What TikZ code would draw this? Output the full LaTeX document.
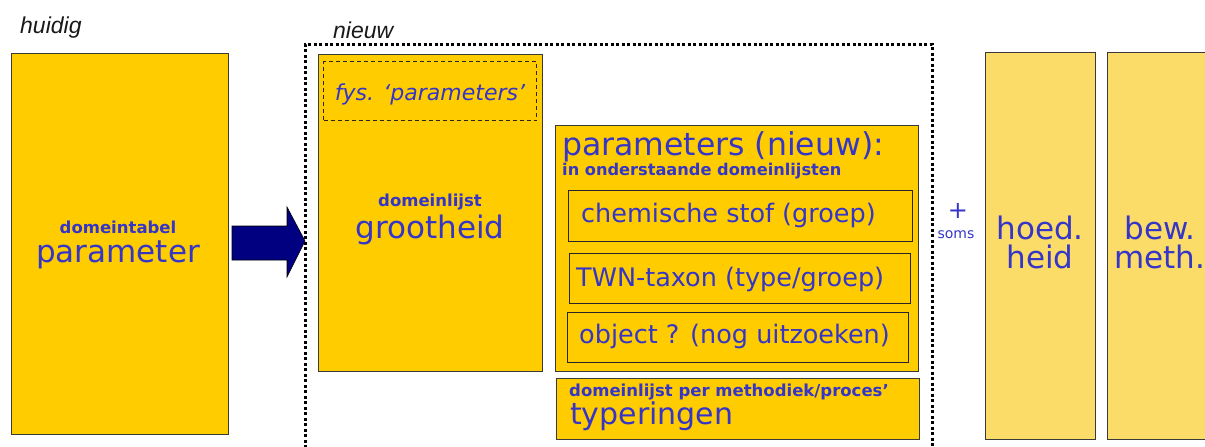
\documentclass[tikz,border=0pt]{standalone}
\usepackage{fontspec}
\setmainfont{DejaVu Sans}
\newfontfamily\labfont{Liberation Sans}
\definecolor{gold}{HTML}{FFCC00}
\definecolor{lightgold}{HTML}{FBDC68}
\definecolor{txtblue}{HTML}{3535C8}
\definecolor{navyarrow}{HTML}{000080}
\definecolor{edge}{HTML}{3A3A3A}
\newcommand\fsz[1]{\fontsize{#1}{#1}\selectfont}
\begin{document}
\begin{tikzpicture}[x=1pt,y=-1pt,
  box/.style={draw=edge, line width=1.4pt, fill=gold, inner sep=0pt, anchor=north west},
  lbox/.style={draw=edge, line width=1.4pt, fill=lightgold, inner sep=0pt, anchor=north west},
  sub/.style={draw=black!85, line width=1.4pt, inner sep=0pt, anchor=north west},
  txt/.style={inner sep=0pt, text=txtblue},
  big/.style={txt, font=\fsz{31}},
  mid/.style={txt, font=\fsz{25.5}},
  small/.style={txt, font=\bfseries\fsz{16.5}},
  head/.style={inner sep=0pt, text=black!90, font=\labfont\itshape\fsz{23}, anchor=base west},
  frame/.style={line width=3pt, dash pattern=on 3pt off 2.5pt, black}
]
\path[use as bounding box] (0,0) rectangle (1205,447);
\clip (0,0) rectangle (1205,447);
\fill[white] (0,0) rectangle (1205,447);

% headings
\node[head] (huidig) at (20,34) {huidig};
\node[head] (nieuw) at (333,38) {nieuw};

% current
\node[box, minimum width=217pt, minimum height=381pt] (oud) at (11,53) {};
\node[small, anchor=base] (oudA) at (118,233) {domeintabel};
\node[big, anchor=base] (oudB) at (118,262) {parameter};

% dotted frame (open at the bottom)
\coordinate (fBL) at (305,470);
\coordinate (fTL) at (305,44);
\coordinate (fTR) at (932,44);
\coordinate (fBR) at (932,470);
\draw[frame] (fBL) -- (fTL) -- (fTR) -- (fBR);

% block arrow
\filldraw[fill=navyarrow, draw=black, line width=0.6pt]
  (232,226) -- (287,226) -- (287,207) -- (305,241) -- (287,277) -- (287,260) -- (232,260) -- cycle;

% grootheid
\node[box, minimum width=224pt, minimum height=317pt] (groot) at (318,54) {};
\node[draw=black!85, line width=1.2pt, dash pattern=on 4pt off 3pt, inner sep=0pt, anchor=north west,
      minimum width=213pt, minimum height=59pt] (fys) at (323,61) {};
\node[txt, anchor=base, font=\itshape\fsz{22}] (fysT) at (430,100) {fys. ‘parameters’};
\node[small, anchor=base] (grootA) at (430,206) {domeinlijst};
\node[big, anchor=base] (grootB) at (430,238) {grootheid};

% parameters (nieuw)
\node[box, minimum width=363pt, minimum height=246pt] (par) at (555,125) {};
\node[txt, anchor=base west, font=\fsz{31.5}] (parA) at (562,155) {parameters (nieuw):};
\node[txt, anchor=base west, font=\bfseries\fsz{16.2}] (parB) at (562,175) {in onderstaande domeinlijsten};
\node[sub, minimum width=344pt, minimum height=51pt] (chem) at (568,190) {};
\node[mid, anchor=base west] (chemT) at (581,222) {chemische stof (groep)};
\node[sub, minimum width=341pt, minimum height=50pt] (twn) at (569,253) {};
\node[mid, anchor=base west] (twnT) at (576,286) {TWN-taxon (type/groep)};
\node[sub, minimum width=341pt, minimum height=50pt] (obj) at (567,312) {};
\node[mid, anchor=base west] (objT) at (579,343) {object ? (nog uitzoeken)};

% typeringen
\node[box, minimum width=363pt, minimum height=61pt] (typ) at (556,378) {};
\node[txt, anchor=base west, font=\bfseries\fsz{16.5}] (typA) at (569,396) {domeinlijst per methodiek/proces’};
\node[txt, anchor=base west, font=\fsz{30}] (typB) at (570,424) {typeringen};

% plus / soms
\node[txt, font=\fsz{24}] (plus) at (958,211) {+};
\node[txt, anchor=base, font=\fsz{14}] (soms) at (956,238) {soms};

% right boxes
\node[lbox, minimum width=110pt, minimum height=387pt] (hoed) at (985,52) {};
\node[big, anchor=base] (hoedA) at (1040,239) {hoed.};
\node[big, anchor=base] (hoedB) at (1040,268) {heid};
\node[lbox, minimum width=120pt, minimum height=387pt] (bew) at (1107,52) {};
\node[big, anchor=base] (bewA) at (1160,239) {bew.};
\node[big, anchor=base] (bewB) at (1160,268) {meth.};
\end{tikzpicture}
\end{document}
